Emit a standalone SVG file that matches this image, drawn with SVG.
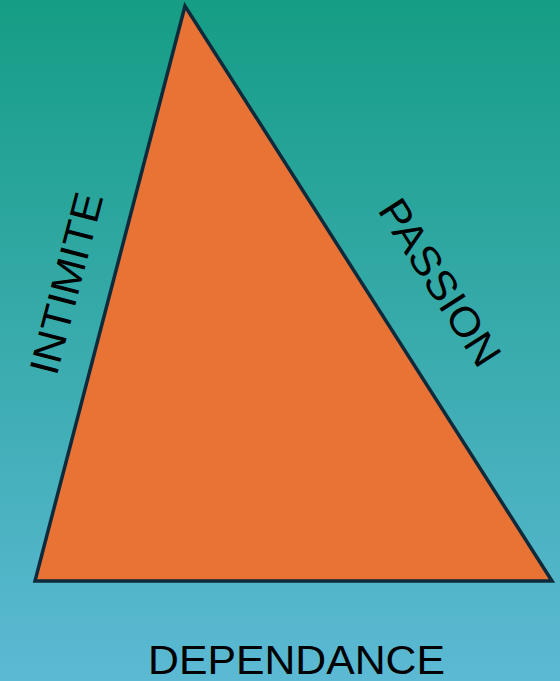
<svg xmlns="http://www.w3.org/2000/svg" width="560" height="681" viewBox="0 0 560 681">
  <defs>
    <linearGradient id="bg" x1="0" y1="0" x2="0" y2="1">
      <stop offset="0" stop-color="#159D85"/>
      <stop offset="1" stop-color="#5CB9D4"/>
    </linearGradient>
    <style>
      .lbl { font-family: "Liberation Sans", Arial, sans-serif; font-size: 41px; fill: #000; }
    </style>
  </defs>
  <rect x="0" y="0" width="560" height="681" fill="url(#bg)"/>
  <g id="triangle">
    <polygon points="185,6 35,581 552,581" fill="#E97334" stroke="#0E2A3B" stroke-width="3.5" stroke-linejoin="miter"/>
  </g>
  <g id="intimite">
    <text class="lbl" text-anchor="middle" textLength="186" lengthAdjust="spacingAndGlyphs" transform="translate(80,287) rotate(-75.4)">INTIMITE</text>
  </g>
  <g id="passion">
    <text class="lbl" text-anchor="middle" textLength="190" lengthAdjust="spacingAndGlyphs" transform="translate(428,290) rotate(57.45)">PASSION</text>
  </g>
  <g id="dependance">
    <text class="lbl" x="296.5" y="674" text-anchor="middle" textLength="297" lengthAdjust="spacingAndGlyphs">DEPENDANCE</text>
  </g>
</svg>
